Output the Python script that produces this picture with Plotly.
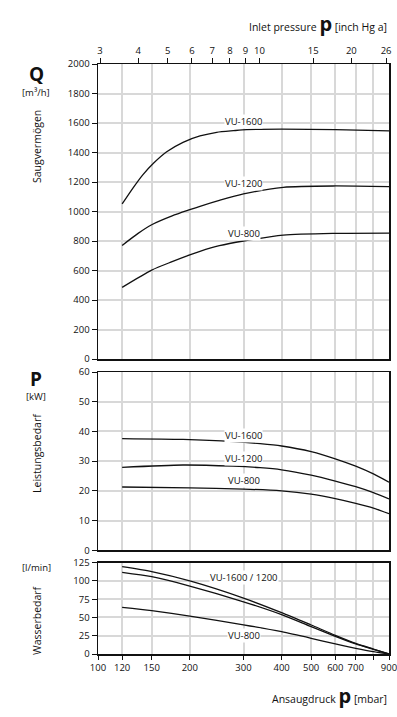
import plotly.graph_objects as go
import math

W, H = 397, 717

# ---------------- data ----------------
# Suction capacity Q [m3/h] vs inlet pressure [mbar]
q1600_p = [120, 130, 140, 152, 168, 190, 216, 245, 278, 307, 400, 600, 900]
q1600_v = [1051, 1157, 1247, 1327, 1405, 1469, 1512, 1537, 1548, 1555, 1558, 1555, 1546]
q1200_p = [120, 135, 150, 175, 200, 216, 250, 300, 405, 590, 900]
q1200_v = [770, 850, 910, 970, 1012, 1035, 1075, 1119, 1164, 1173, 1168]
q800_p = [120, 150, 175, 200, 216, 250, 300, 405, 590, 900]
q800_v = [486, 603, 660, 706, 730, 768, 800, 840, 852, 854]

# Power P [kW]
pw1600_p = [120, 190, 277, 340, 400, 500, 600, 700, 800, 900]
pw1600_v = [37.6, 37.3, 36.6, 35.9, 35.1, 33.2, 30.8, 28.3, 25.7, 22.9]
pw1200_p = [120, 190, 277, 340, 400, 500, 600, 700, 800, 900]
pw1200_v = [27.9, 28.7, 28.3, 27.8, 27.1, 25.3, 23.3, 21.4, 19.4, 17.3]
pw800_p = [120, 200, 300, 400, 500, 600, 700, 800, 900]
pw800_v = [21.3, 21.0, 20.6, 20.0, 18.9, 17.4, 15.8, 14.2, 12.3]

# Water demand [l/min]
wa_p = [120, 150, 200, 300, 400, 500, 600, 700, 800, 900]
wa1600 = [119.5, 112.7, 100, 76.5, 56.6, 39.7, 25.6, 14.6, 6.8, 0]
wa1200 = [111.8, 105.8, 93, 71.5, 53.9, 37.4, 24.2, 13.7, 6.4, 0]
wa800 = [63.9, 59.3, 52, 40, 30.5, 21.5, 13.7, 7.8, 3.2, 0]

# axis ticks
mbar_ticks = [100, 120, 150, 200, 300, 400, 500, 600, 700, 800, 900]
mbar_text = ["100", "120", "150", "200", "300", "400", "500", "600", "700", "", "900"]
inch_ticks = [3, 4, 5, 6, 7, 8, 9, 10, 15, 20, 26]
INHG = 33.8639

FONT = "Open Sans"
TICKF = dict(family=FONT, size=9.5, color="#111")
GRID = "#d8d8d8"

def py(pix):
    return 1 - pix / H

xdom = [98 / W, 389 / W]
d_top = [py(359), py(64)]
d_mid = [py(550.3), py(372)]
d_bot = [py(654), py(562.7)]
xr = [math.log10(100), math.log10(900)]

fig = go.Figure()
line = dict(color="#111", width=1.3, shape="spline", smoothing=0.7)

for xs, ys in [(q1600_p, q1600_v), (q1200_p, q1200_v), (q800_p, q800_v)]:
    fig.add_trace(go.Scatter(x=xs, y=ys, mode="lines", line=line, xaxis="x", yaxis="y", hoverinfo="skip"))
for xs, ys in [(pw1600_p, pw1600_v), (pw1200_p, pw1200_v), (pw800_p, pw800_v)]:
    fig.add_trace(go.Scatter(x=xs, y=ys, mode="lines", line=line, xaxis="x2", yaxis="y2", hoverinfo="skip"))
for ys in [wa1600, wa1200, wa800]:
    fig.add_trace(go.Scatter(x=wa_p, y=ys, mode="lines", line=line, xaxis="x3", yaxis="y3", hoverinfo="skip"))
# invisible trace to activate the top (inch Hg) axis
fig.add_trace(go.Scatter(x=[200], y=[0], mode="markers", marker=dict(opacity=0), xaxis="x4", yaxis="y", hoverinfo="skip"))

def xax(anchor, labels):
    return dict(type="log", range=xr, domain=xdom, anchor=anchor, automargin=False,
                tickvals=mbar_ticks, ticktext=mbar_text if labels else [""] * len(mbar_ticks),
                showticklabels=labels, ticks="outside" if labels else "", ticklen=4, tickcolor="#111",
                ticklabeloverflow="allow",
                showgrid=True, gridcolor=GRID, gridwidth=2,
                showline=True, linecolor="#111", linewidth=1.5, mirror=True,
                tickfont=TICKF, zeroline=False, fixedrange=True)

def yax(anchor, dom, rng, dt):
    return dict(range=rng, domain=dom, anchor=anchor, dtick=dt, tick0=0, automargin=False,
                ticks="outside", ticklen=5, tickcolor="#111", ticklabeloverflow="allow",
                showgrid=True, gridcolor=GRID, gridwidth=2,
                showline=True, linecolor="#111", linewidth=1.5, mirror=True,
                tickfont=TICKF, zeroline=False, fixedrange=True)

fig.update_layout(
    width=W, height=H,
    margin=dict(l=0, r=0, t=0, b=0, pad=0),
    paper_bgcolor="white", plot_bgcolor="white",
    showlegend=False,
    font=dict(family=FONT, color="#111"),
    xaxis=xax("y", False),
    xaxis2=xax("y2", False),
    xaxis3=xax("y3", True),
    xaxis4=dict(type="log", range=xr, domain=xdom, overlaying="x", side="top", anchor="y", automargin=False,
                tickvals=[v * INHG for v in inch_ticks], ticktext=[str(v) for v in inch_ticks],
                ticks="outside", ticklen=5, tickcolor="#111", showgrid=False, ticklabeloverflow="allow",
                showline=True, linecolor="#111", linewidth=1.5, tickfont=TICKF, fixedrange=True),
    yaxis=yax("x", d_top, [0, 2000], 200),
    yaxis2=yax("x2", d_mid, [0, 60], 10),
    yaxis3=yax("x3", d_bot, [0, 125], 25),
)

def curve_label(text, xref, yref, x, y):
    fig.add_annotation(text=text, x=math.log10(x), y=y, xref=xref, yref=yref,
                       showarrow=False, bgcolor="white", borderpad=0,
                       font=dict(family=FONT, size=9.5, color="#111"))

# curve labels (data coords)
curve_label("VU-1600", "x", "y", 300, 1610)
curve_label("VU-1200", "x", "y", 300, 1187)
curve_label("VU-800", "x", "y", 300, 854)
curve_label("VU-1600", "x2", "y2", 300, 38.5)
curve_label("VU-1200", "x2", "y2", 300, 31)
curve_label("VU-800", "x2", "y2", 300, 23.5)
curve_label("VU-1600 / 1200", "x3", "y3", 300, 105)
curve_label("VU-800", "x3", "y3", 300, 25.5)

def txt(text, x, y, size, xanchor="center", angle=0, bold=False):
    fig.add_annotation(text=f"<b>{text}</b>" if bold else text, x=x / W, y=py(y), xref="paper", yref="paper",
                       showarrow=False, xanchor=xanchor, yanchor="middle", textangle=angle,
                       font=dict(family=FONT, size=size, color="#111"))

txt("Inlet pressure <span style='font-size:20px'><b>p</b></span> [inch Hg a]", 389, 23, 10.5, xanchor="right")
txt("Ansaugdruck <span style='font-size:20px'><b>p</b></span> [mbar]", 389, 695, 10.5, xanchor="right")
txt("Q", 36, 74, 19, bold=True)
txt("[m³/h]", 36, 92, 9.5)
txt("Saugvermögen", 37, 147, 10.5, angle=-90)
txt("P", 36, 379, 19, bold=True)
txt("[kW]", 36, 396, 9.5)
txt("Leistungsbedarf", 37, 453, 10.5, angle=-90)
txt("[l/min]", 36, 567, 9.5)
txt("Wasserbedarf", 37, 620, 10.5, angle=-90)

fig.write_html("out.html", config={"displayModeBar": False, "staticPlot": True},
               post_script="document.body.style.margin='0';document.body.style.overflow='hidden';")
